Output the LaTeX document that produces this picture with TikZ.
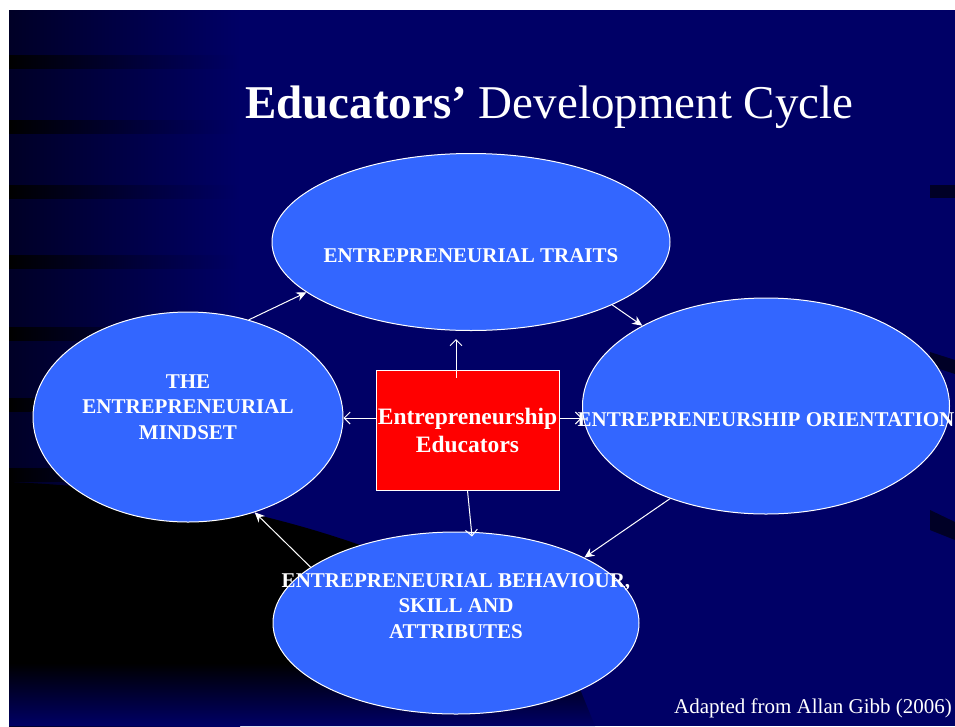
\documentclass[tikz,border=0pt]{standalone}
\usepackage{fontspec}
\setmainfont{Liberation Serif}
\usetikzlibrary{arrows.meta,positioning,shapes.geometric}
\definecolor{bgnavy}{RGB}{0,0,102}
\definecolor{bgdark}{RGB}{0,0,38}
\definecolor{cycblue}{RGB}{51,102,255}
\tikzset{
  cyc/.style={ellipse, draw=white, line width=1pt, fill=cycblue, inner sep=0pt},
  lbl/.style={text=white, font=\bfseries\fontsize{21}{25.5}\selectfont, align=center, inner sep=0pt},
  cycarrow/.style={white, line width=1pt, -{Stealth[length=10pt,width=9pt]}},
  ctrarrow/.style={white, line width=1pt, -{Straight Barb[length=6pt,width=12pt]}}
}

\begin{document}
\begin{tikzpicture}[x=1pt,y=-1pt]
\useasboundingbox (0,0) rectangle (955,726);

% slide background
\fill[white] (0,0) rectangle (955,726);
\fill[bgnavy] (9,10) rectangle (955,726);
\shade[left color=bgdark, right color=bgnavy] (9,10) rectangle (240,726);
\foreach \y in {55,120,185,255,327,398,468}
  \shade[left color=black, right color=bgnavy] (9,\y) rectangle (240,\y+13);
\fill[bgdark] (930,185) rectangle (955,198);
\fill[bgdark] (930,352) -- (955,360) -- (955,374) -- (930,366) -- cycle;
\fill[bgdark] (930,510) -- (955,522) -- (955,540) -- (930,530) -- cycle;
\begin{scope}
\clip (9,482) .. controls (150,488) and (280,512) .. (400,560) -- (560,640) -- (595,726) -- (9,726) -- cycle;
\fill[black] (9,470) rectangle (600,664);
\shade[top color=black, bottom color=bgnavy] (9,663) rectangle (600,726);
\end{scope}

% title
\node[anchor=base west, text=white, font=\fontsize{47}{56}\selectfont, inner sep=0pt] (title) at (245,118) {\textbf{Educators'} Development Cycle};

% cycle
\node[cyc, minimum width=398pt, minimum height=177pt] (traits) at (471,242) {};
\node[cyc, minimum width=310pt, minimum height=210pt] (mindset) at (188,417) {};
\node[cyc, minimum width=367pt, minimum height=216pt] (orient) at (766,406) {};
\node[cyc, minimum width=366pt, minimum height=182pt] (behav) at (456,623) {};
\node[draw=white, line width=1pt, fill=red, minimum width=183pt, minimum height=120pt, inner sep=0pt,
  text=white, font=\bfseries\fontsize{23.5}{28}\selectfont, align=center] (edu) at (467.5,430) {Entrepreneurship\\Educators};

\draw[cycarrow] (mindset.58) -- (traits.197);
\draw[cycarrow] (traits.-24) -- (orient.147);
\draw[cycarrow] (orient.224) -- (behav.27);
\draw[cycarrow] (behav.159) -- (mindset.-55);

\draw[ctrarrow] ([xshift=-11.5pt,yshift=-8pt]edu.north) -- ([xshift=-11.5pt,yshift=-8pt]edu.north |- traits.south);
\draw[ctrarrow] ([yshift=12pt]edu.west) -- ([yshift=12pt]edu.west -| mindset.east);
\draw[ctrarrow] ([yshift=12pt]edu.east) -- ([yshift=12pt]edu.east -| orient.west);
\draw[ctrarrow] (edu.south) -- ([xshift=16pt,yshift=-5pt]behav.north);

\node[lbl] (traitstxt) at ([yshift=-14pt]traits.center) {ENTREPRENEURIAL TRAITS};
\node[lbl] (mindsettxt) at ([yshift=10pt]mindset.center) {THE\\ENTREPRENEURIAL\\MINDSET};
\node[lbl] (orienttxt) at ([yshift=-14pt]orient.center) {ENTREPRENEURSHIP ORIENTATION};
\node[lbl] (behavtxt) at ([yshift=17pt]behav.center) {ENTREPRENEURIAL BEHAVIOUR,\\SKILL AND\\ATTRIBUTES};

\node[anchor=base west, text=white, font=\fontsize{21}{25}\selectfont, inner sep=0pt] (source) at (674,713) {Adapted from Allan Gibb (2006)};
\end{tikzpicture}
\end{document}
